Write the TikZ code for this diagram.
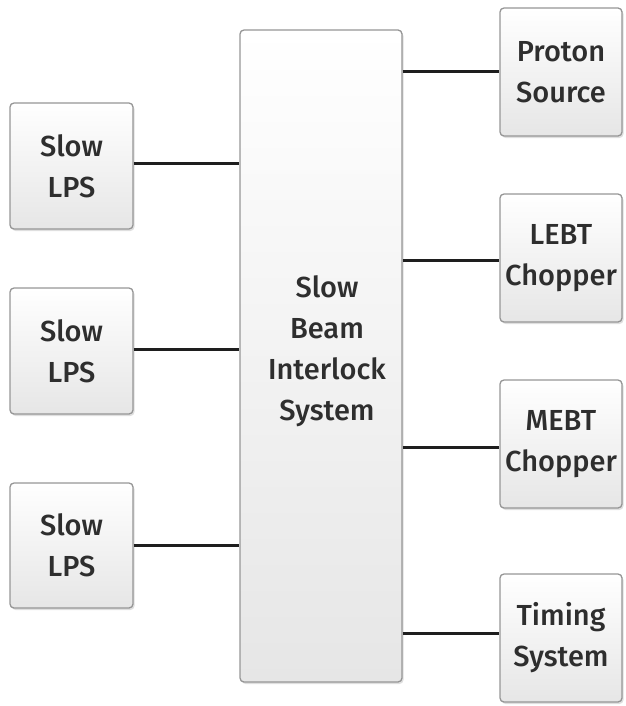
\documentclass[tikz,border=0pt]{standalone}
\usepackage{fontspec}
\setmainfont{Fira Sans}[UprightFont={* Medium}]
\usetikzlibrary{shadows}
\definecolor{boxline}{RGB}{150,150,150}
\definecolor{boxbot}{RGB}{230,230,230}
\definecolor{wire}{RGB}{30,30,30}
\tikzset{
  blk/.style={draw=boxline, line width=1.3pt, rounded corners=4pt,
    top color=white, bottom color=boxbot,
    drop shadow={shadow xshift=1.5pt, shadow yshift=-2pt, opacity=0.25},
    align=center, font=\fontsize{29}{41}\selectfont, text=black!82,
    inner sep=0pt},
  wirel/.style={draw=wire, line width=3pt}
}
\begin{document}
\begin{tikzpicture}[x=1pt,y=-1pt]
\useasboundingbox (0,0) rectangle (625,706);
% left boxes
\node[blk, minimum width=123pt, minimum height=126pt] (l1) at (71.5,166) {Slow\\LPS};
\node[blk, minimum width=123pt, minimum height=126pt] (l2) at (71.5,351) {Slow\\LPS};
\node[blk, minimum width=123pt, minimum height=125pt] (l3) at (71.5,545.5) {Slow\\LPS};
% center
\node[blk, minimum width=162pt, minimum height=652pt] (c) at (321,356) {};
\node[align=center, font=\fontsize{29}{41}\selectfont, text=black!82] (ct) at (327,351) {Slow\\Beam\\Interlock\\System};
% right boxes
\node[blk, minimum width=122pt, minimum height=128pt] (r1) at (561,72) {Proton\\Source};
\node[blk, minimum width=122pt, minimum height=128pt] (r2) at (561,258) {LEBT\\Chopper};
\node[blk, minimum width=122pt, minimum height=128pt] (r3) at (561,444) {MEBT\\Chopper};
\node[blk, minimum width=122pt, minimum height=128pt] (r4) at (561,638) {Timing\\System};
% wires
\draw[wirel] (l1.east |- 0,163) -- (c.west |- 0,163);
\draw[wirel] (l2.east |- 0,349) -- (c.west |- 0,349);
\draw[wirel] (l3.east |- 0,545) -- (c.west |- 0,545);
\draw[wirel] (c.east |- 0,72) -- (r1.west |- 0,72);
\draw[wirel] (c.east |- 0,260) -- (r2.west |- 0,260);
\draw[wirel] (c.east |- 0,447) -- (r3.west |- 0,447);
\draw[wirel] (c.east |- 0,633) -- (r4.west |- 0,633);
\end{tikzpicture}
\end{document}
